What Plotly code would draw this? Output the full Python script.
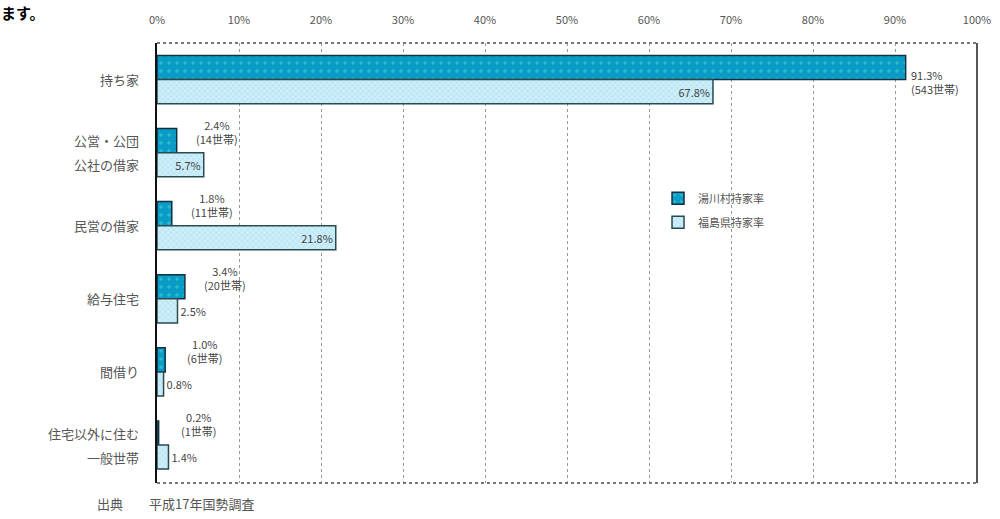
import plotly.graph_objects as go

categories = ["持ち家", "公営・公団<br>公社の借家", "民営の借家", "給与住宅", "間借り", "住宅以外に住む<br>一般世帯"]
village_rate = [91.3, 2.4, 1.8, 3.4, 1.0, 0.2]
village_households = [543, 14, 11, 20, 6, 1]
pref_rate = [67.8, 5.7, 21.8, 2.5, 0.8, 1.4]
series_names = ["湯川村持家率", "福島県持家率"]
tick_vals = [0, 10, 20, 30, 40, 50, 60, 70, 80, 90, 100]
tick_text = [f"{v}%" for v in tick_vals]

FONT = "Noto Sans CJK JP"
TXT = "#555555"

fig = go.Figure()
fig.add_trace(go.Bar(
    y=categories, x=village_rate, orientation="h", name=series_names[0], legendgroup="a",
    marker=dict(color="#0a9cc6", line=dict(color="#123040", width=1.5),
                pattern=dict(shape=".", fgcolor="#4fd6d6", size=8, solidity=0.15)),
))
fig.add_trace(go.Bar(
    y=categories, x=pref_rate, orientation="h", name=series_names[1], legendgroup="b",
    marker=dict(color="#cdeefa", line=dict(color="#2a4a50", width=1.5),
                pattern=dict(shape="x", fgcolor="#8fcfe0", size=4, solidity=0.3)),
    text=[f"{v}%" for v in pref_rate],
    textposition=["inside", "inside", "inside", "outside", "outside", "outside"],
    insidetextanchor="end",
    textfont=dict(family=FONT, size=11, color="#444444"),
    cliponaxis=False,
))

# labels for village bars
for i, (cat, v, h) in enumerate(zip(categories, village_rate, village_households)):
    label = f"{v}%<br>({h}世帯)"
    if i == 0:
        fig.add_annotation(x=v, y=cat, text=label, xanchor="left", yanchor="middle",
                           xshift=3, yshift=-2, showarrow=False, align="left",
                           font=dict(family=FONT, size=11, color="#444444"))
    else:
        fig.add_annotation(x=v, y=cat, text=label, xanchor="center", yanchor="bottom",
                           xshift=40, yshift=4, showarrow=False, align="center",
                           font=dict(family=FONT, size=11, color="#444444"))

# category labels (custom line spacing)
for cat in categories:
    lines = cat.split("<br>")
    n = len(lines)
    for j, line in enumerate(lines):
        fig.add_annotation(xref="paper", yref="y", x=0, y=cat, text=line,
                           xanchor="right", yanchor="middle", xshift=-16,
                           yshift=(n - 1) * 12 - j * 24, showarrow=False,
                           font=dict(family=FONT, size=13, color=TXT))

fig.update_layout(
    width=1000, height=519,
    margin=dict(l=157, r=23, t=43, b=36, autoexpand=False),
    paper_bgcolor="white", plot_bgcolor="white",
    barmode="group", bargap=0.34, bargroupgap=0.0,
    font=dict(family=FONT, color=TXT, size=12),
    showlegend=True,
    legend=dict(x=0.611, y=0.68, xanchor="left", yanchor="top",
                bgcolor="rgba(0,0,0,0)", font=dict(family=FONT, size=11, color=TXT),
                traceorder="grouped", itemwidth=30, tracegroupgap=5),
    xaxis=dict(range=[0, 100], side="top", tickvals=tick_vals, ticktext=tick_text,
               showgrid=True, gridcolor="#999999", griddash="dot", gridwidth=1,
               zeroline=False, showline=False, ticks="outside", ticklen=14,
               tickcolor="rgba(0,0,0,0)", automargin=False, ticklabelstandoff=0,
               tickfont=dict(family=FONT, size=11, color=TXT)),
    yaxis=dict(autorange="reversed", showgrid=False, zeroline=False,
               showline=True, linecolor="#111111", linewidth=2, ticks="", automargin=False,
               showticklabels=False),
)

# frame: dotted top & bottom, solid right
fig.add_shape(type="line", xref="paper", yref="paper", x0=0, x1=1, y0=1, y1=1,
              line=dict(color="#777777", width=2, dash="dot"))
fig.add_shape(type="line", xref="paper", yref="paper", x0=0, x1=1, y0=0, y1=0,
              line=dict(color="#777777", width=2, dash="dot"))
fig.add_shape(type="line", xref="paper", yref="paper", x0=1, x1=1, y0=0, y1=1,
              line=dict(color="#555555", width=2))

fig.add_annotation(xref="paper", yref="paper", x=-0.076, y=-0.02, xanchor="left", yanchor="top",
                   text="出典　　平成17年国勢調査", showarrow=False,
                   font=dict(family=FONT, size=13, color=TXT))
fig.add_annotation(xref="paper", yref="paper", x=-0.193, y=1.0977, xanchor="left", yanchor="top",
                   text="<b>ます。</b>", showarrow=False,
                   font=dict(family=FONT, size=15, color="#000000"))

fig.write_html("out.html", config={"displayModeBar": False},
               post_script="document.body.style.margin='0';document.body.style.overflow='hidden';")
